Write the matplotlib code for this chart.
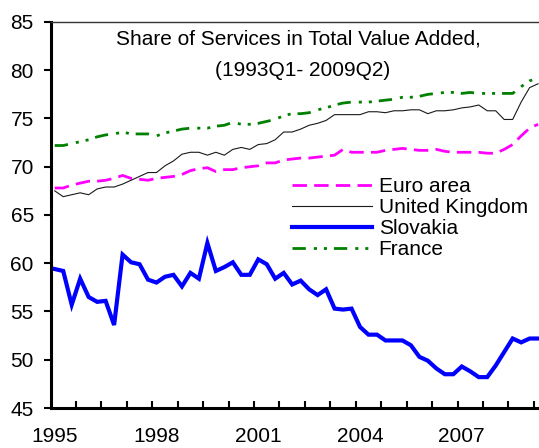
import matplotlib
matplotlib.use("Agg")
import matplotlib.pyplot as plt
import numpy as np

plt.rcParams['font.family'] = ['Liberation Sans', 'DejaVu Sans']

year_labels = ["1995", "1998", "2001", "2004", "2007"]
series_names = ["Euro area", "United Kingdom", "Slovakia", "France"]

euro_area = [67.8, 67.8, 68.1, 68.3, 68.5, 68.5, 68.6, 68.8, 69.1, 68.8,
             68.7, 68.6, 68.8, 68.9, 69.0, 69.2, 69.6, 69.8, 69.9, 69.5,
             69.7, 69.7, 69.9, 70.0, 70.1, 70.4, 70.4, 70.7, 70.8, 70.9,
             70.9, 71.0, 71.1, 71.2, 71.8, 71.5, 71.5, 71.5, 71.5, 71.7,
             71.8, 71.9, 71.8, 71.7, 71.7, 71.8, 71.6, 71.5, 71.5, 71.5,
             71.5, 71.4, 71.4, 71.8, 72.3, 73.2, 74.0, 74.4]
united_kingdom = [67.5, 66.9, 67.1, 67.3, 67.1, 67.7, 67.9, 67.9, 68.2, 68.6,
                  69.0, 69.4, 69.4, 70.1, 70.6, 71.3, 71.5, 71.5, 71.2, 71.5,
                  71.2, 71.8, 72.0, 71.8, 72.3, 72.4, 72.8, 73.6, 73.6, 73.9,
                  74.3, 74.5, 74.8, 75.4, 75.4, 75.4, 75.4, 75.7, 75.7, 75.6,
                  75.8, 75.8, 75.9, 75.9, 75.5, 75.8, 75.8, 75.9, 76.1, 76.2,
                  76.4, 75.8, 75.8, 74.9, 74.9, 76.7, 78.2, 78.6]
slovakia = [59.4, 59.2, 55.7, 58.4, 56.5, 56.0, 56.1, 53.6, 60.9, 60.1,
            59.9, 58.3, 58.0, 58.6, 58.8, 57.6, 59.0, 58.4, 62.1, 59.2,
            59.6, 60.1, 58.8, 58.8, 60.4, 59.9, 58.4, 59.0, 57.8, 58.2,
            57.3, 56.7, 57.3, 55.3, 55.2, 55.3, 53.4, 52.6, 52.6, 52.0,
            52.0, 52.0, 51.5, 50.3, 49.9, 49.1, 48.5, 48.5, 49.3, 48.8,
            48.2, 48.2, 49.4, 50.8, 52.2, 51.8, 52.2, 52.2]
france = [72.2, 72.2, 72.4, 72.6, 72.8, 73.1, 73.3, 73.4, 73.6, 73.4,
          73.4, 73.4, 73.2, 73.5, 73.7, 73.9, 74.0, 74.0, 74.0, 74.2,
          74.3, 74.6, 74.4, 74.4, 74.5, 74.7, 74.9, 75.3, 75.5, 75.5,
          75.6, 75.9, 76.1, 76.4, 76.6, 76.7, 76.7, 76.7, 76.8, 76.9,
          77.0, 77.2, 77.2, 77.3, 77.5, 77.6, 77.7, 77.7, 77.6, 77.7,
          77.6, 77.6, 77.6, 77.6, 77.6, 78.3, 78.9, 79.2]

n = len(slovakia)
x = np.arange(n)

W, H = 539, 448
fig = plt.figure(figsize=(W / 100, H / 100), dpi=100)
ax = fig.add_axes([50.5 / W, 1 - 408 / H, (58 * 8.48) / W, (408 - 22) / H])

ax.plot(x, euro_area, color='#FF00FF', lw=2.0, linestyle=(0, (5.2, 2.6)),
        label=series_names[0])
ax.plot(x, united_kingdom, color='#1a1a1a', lw=0.8, label=series_names[1])
ax.plot(x, slovakia, color='#0000FF', lw=3.0, solid_joinstyle='miter',
        label=series_names[2])
ax.plot(x, france, color='#008000', lw=2.0,
        linestyle=(0, (4.8, 2.9, 1.1, 2.5, 1.1, 2.5)), label=series_names[3])

ax.set_xlim(-0.5, n - 0.5)
ax.set_ylim(45, 85)
ax.set_yticks(np.arange(45, 86, 5))
ax.set_xticks(np.arange(0, n, 12))
ax.set_xticklabels(year_labels)
ax.set_xticks(np.arange(2.5, n, 3), minor=True)

ax.tick_params(axis='y', direction='out', length=5, width=1.5, pad=7,
               labelsize=15)
ax.tick_params(axis='x', which='major', length=0, pad=14, labelsize=15)
ax.tick_params(axis='x', which='minor', direction='in', length=5, width=1.5)

for s in ['left', 'bottom']:
    ax.spines[s].set_linewidth(2.2)
ax.spines['top'].set_linewidth(1.0)
ax.spines['top'].set_color('#333333')
ax.spines['right'].set_visible(False)

fig.text(298.5 / W, 1 - 39 / H, "Share of Services in Total Value Added,",
         ha='center', va='center', fontsize=15)
fig.text(303 / W, 1 - 70 / H, "(1993Q1- 2009Q2)",
         ha='center', va='center', fontsize=15)

leg = ax.legend(loc='upper left', bbox_to_anchor=(291.7 / W, 1 - 177 / H),
                bbox_transform=fig.transFigure, frameon=False, fontsize=15,
                handlelength=3.85, handletextpad=0.32, labelspacing=0.1,
                borderpad=0, borderaxespad=0)

fig.savefig("out.png", dpi=100)
